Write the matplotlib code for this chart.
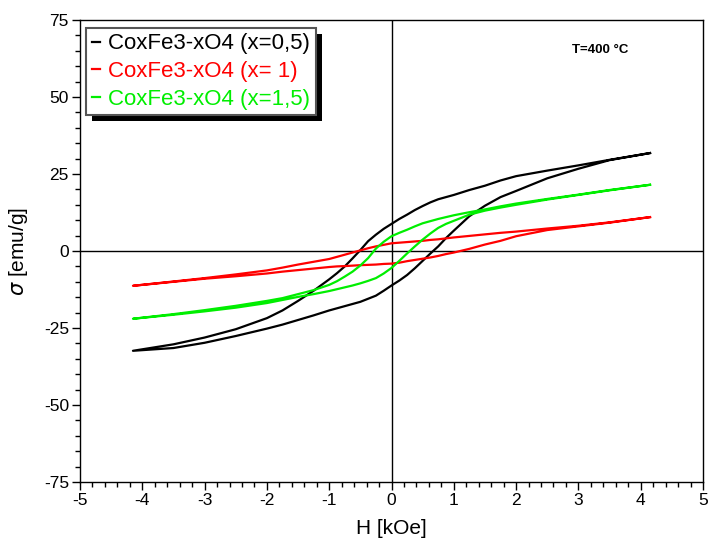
import matplotlib
matplotlib.use("Agg")
import matplotlib.pyplot as plt
from matplotlib.ticker import MultipleLocator
from matplotlib.patches import Rectangle

plt.rcParams['font.family'] = ['Liberation Sans', 'DejaVu Sans']
plt.rcParams['axes.unicode_minus'] = False

# Field values (kOe): descending sweep from +Hmax; the ascending sweep is the reverse
H_desc = [4.15, 3.5, 3.0, 2.5, 2.0, 1.75, 1.5, 1.25, 1.0, 0.875, 0.75, 0.625, 0.5,
          0.375, 0.25, 0.125, 0.0, -0.125, -0.25, -0.375, -0.5, -0.625, -0.75,
          -0.875, -1.0, -1.25, -1.5, -1.75, -2.0, -2.5, -3.0, -3.5, -4.15]
H_asc = H_desc[::-1]

# x = 0.5 : magnetisation (emu/g)
s05_desc = [31.8, 29.6, 27.8, 26.1, 24.3, 22.9, 21.2, 19.8, 18.2, 17.5, 16.8, 15.8, 14.6,
            13.3, 11.8, 10.4, 8.8, 7.2, 5.3, 3.2, 0.3, -2.4, -5.0,
            -7.2, -9.2, -12.9, -16.2, -19.3, -21.8, -25.4, -28.1, -30.3, -32.4]
s05_asc = [-32.4, -31.5, -29.8, -27.6, -25.2, -23.9, -22.4, -20.9, -19.3, -18.6, -17.9,
           -17.2, -16.5, -15.5, -14.5, -12.9, -11.2, -9.6, -7.8, -5.6, -3.2, -0.8, 1.5,
           4.2, 6.6, 11.3, 14.7, 17.5, 19.5, 23.6, 26.7, 29.5, 31.8]

# x = 1
s10_desc = [11.0, 9.3, 8.2, 7.3, 6.3, 5.9, 5.4, 4.9, 4.4, 4.1, 3.8, 3.6, 3.3,
            3.1, 2.9, 2.7, 2.5, 2.0, 1.5, 0.9, 0.2, -0.5, -1.2,
            -1.9, -2.6, -3.5, -4.4, -5.4, -6.3, -7.6, -8.8, -9.9, -11.3]
s10_asc = [-11.3, -10.0, -9.0, -8.2, -7.3, -6.7, -6.2, -5.7, -5.2, -5.0, -4.9,
           -4.75, -4.6, -4.5, -4.4, -4.2, -4.1, -3.8, -3.3, -2.9, -2.5, -2.1, -1.6,
           -1.0, -0.5, 0.7, 2.1, 3.3, 4.8, 6.8, 8.0, 9.2, 11.0]

# x = 1.5
s15_desc = [21.5, 19.8, 18.3, 16.9, 15.4, 14.5, 13.5, 12.6, 11.6, 11.0, 10.4, 9.7, 9.0,
            8.0, 6.9, 5.9, 4.8, 3.0, 0.8, -2.3, -4.7, -6.7, -8.3,
            -9.8, -11.0, -12.7, -14.0, -15.3, -16.2, -17.8, -19.2, -20.5, -22.0]
s15_asc = [-22.0, -20.7, -19.6, -18.4, -16.9, -15.9, -14.9, -14.0, -13.0, -12.4, -11.8,
           -11.2, -10.5, -9.7, -8.8, -7.3, -5.5, -3.2, -0.8, 1.5, 3.7, 5.7, 7.5,
           8.8, 9.8, 11.8, 13.1, 14.1, 15.0, 16.7, 18.2, 19.7, 21.5]

labels = ["CoxFe3-xO4 (x=0,5)", "CoxFe3-xO4 (x= 1)", "CoxFe3-xO4 (x=1,5)"]
colors = ["#000000", "#ff0000", "#00ee00"]
loops = [(s05_desc, s05_asc), (s10_desc, s10_asc), (s15_desc, s15_asc)]

fig = plt.figure(figsize=(7.08, 5.44), dpi=100)
ax = fig.add_axes([80 / 708, 62 / 544, 623 / 708, 462 / 544])

ax.axhline(0, color="black", lw=1.0, zorder=1)
ax.axvline(0, color="black", lw=1.0, zorder=1)

handles = []
for (d, a), c, lab in zip(loops, colors, labels):
    h, = ax.plot(H_desc + H_asc, d + a, color=c, lw=1.6, label=lab, zorder=3)
    handles.append(h)

ax.set_xlim(-5, 5)
ax.set_ylim(-75, 75)
ax.xaxis.set_major_locator(MultipleLocator(1))
ax.xaxis.set_minor_locator(MultipleLocator(0.2))
ax.yaxis.set_major_locator(MultipleLocator(25))
ax.yaxis.set_minor_locator(MultipleLocator(5))
ax.tick_params(which="major", direction="out", length=6, width=1,
               labelsize=12.5, pad=2)
ax.tick_params(which="minor", direction="out", length=3.5, width=1)
for sp in ax.spines.values():
    sp.set_linewidth(1.0)

ax.set_xlabel("H [kOe]", fontsize=15, labelpad=8)
ax.set_ylabel(r"$\sigma$ [emu/g]", fontsize=15, labelpad=10)

leg = ax.legend(handles=handles, loc="upper left", bbox_to_anchor=(0.0096, 0.983),
                fontsize=16, frameon=True, fancybox=False, framealpha=1,
                handlelength=0.4, handletextpad=0.35, borderpad=0.25,
                labelspacing=0.3, labelcolor="linecolor", borderaxespad=0)
leg.get_frame().set_edgecolor("#555555")
leg.get_frame().set_linewidth(1.5)
leg.set_zorder(6)

ax.text(0.835, 0.935, "T=400 °C", transform=ax.transAxes, fontsize=9.5,
        fontweight="bold", ha="center", va="center")

# offset black drop shadow behind the legend box
fig.canvas.draw()
bb = leg.get_window_extent().transformed(fig.transFigure.inverted())
off_x, off_y = 6 / 708, 6 / 544
shadow = Rectangle((bb.x0 + off_x, bb.y0 - off_y), bb.width, bb.height,
                   transform=fig.transFigure, facecolor="black",
                   edgecolor="none", zorder=5)
shadow.set_clip_on(False)
ax.add_artist(shadow)

fig.savefig("out.png", dpi=100)
